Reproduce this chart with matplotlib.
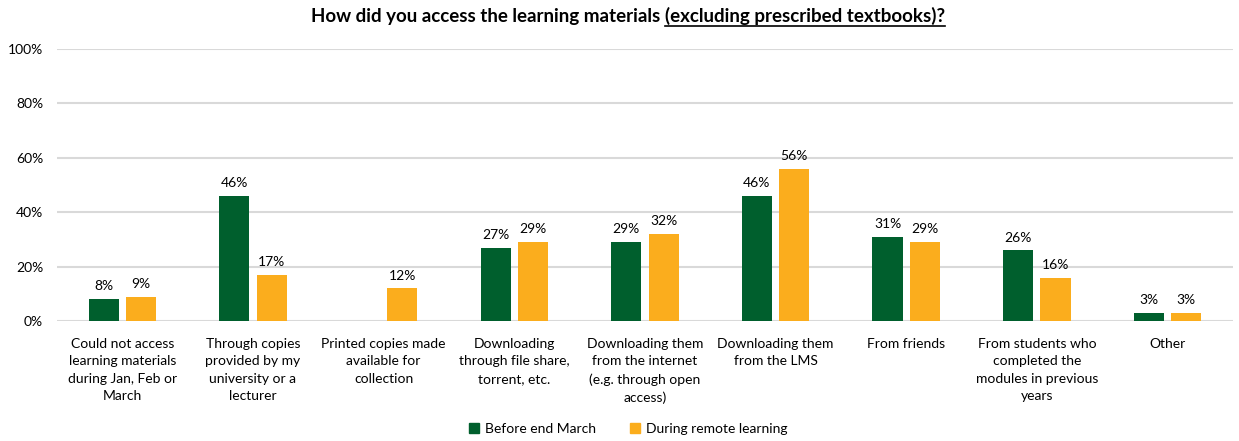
import numpy as np
import matplotlib
matplotlib.use("Agg")
import matplotlib.pyplot as plt
from matplotlib.patches import Patch

categories = [
    "Could not access\nlearning materials\nduring Jan, Feb or\nMarch",
    "Through copies\nprovided by my\nuniversity or a\nlecturer",
    "Printed copies made\navailable for\ncollection",
    "Downloading\nthrough file share,\ntorrent, etc.",
    "Downloading them\nfrom the internet\n(e.g. through open\naccess)",
    "Downloading them\nfrom the LMS",
    "From friends",
    "From students who\ncompleted the\nmodules in previous\nyears",
    "Other",
]
before_march = [8, 46, None, 27, 29, 46, 31, 26, 3]
remote = [9, 17, 12, 29, 32, 56, 29, 16, 3]
yticks = [0, 20, 40, 60, 80, 100]

GREEN = "#005F2D"
ORANGE = "#FBAD1D"
GRID = "#D9D9D9"

plt.rcParams["font.family"] = ["Lato", "DejaVu Sans"]

fig = plt.figure(figsize=(12.39, 4.41), dpi=100)
ax = fig.add_axes([0.046, 0.272, 0.949, 0.617])

x = np.arange(len(categories))
w = 0.23
off = 0.143

for i, (b, r) in enumerate(zip(before_march, remote)):
    if b is not None:
        ax.bar(x[i] - off, b, w, color=GREEN, zorder=3)
        ax.text(x[i] - off, b + 2.5, f"{b}%", ha="center", va="bottom", fontsize=10)
    ax.bar(x[i] + off, r, w, color=ORANGE, zorder=3)
    ax.text(x[i] + off, r + 2.5, f"{r}%", ha="center", va="bottom", fontsize=10)

ax.set_xlim(-0.5, len(categories) - 0.5)
ax.set_ylim(0, 100)
ax.set_yticks(yticks)
ax.set_yticklabels([f"{t}%" for t in yticks], fontsize=10)
ax.set_xticks(x)
ax.set_xticklabels(categories, fontsize=10, linespacing=1.55, va="top")
ax.tick_params(length=0, pad=12)
ax.tick_params(axis="y", pad=10)
ax.yaxis.grid(True, color=GRID, linewidth=1.5, zorder=0)
for s in ax.spines.values():
    s.set_visible(False)

# title with underlined second part
fig.canvas.draw()
renderer = fig.canvas.get_renderer()
part1 = "How did you access the learning materials "
part2 = "(excluding prescribed textbooks)?"
ty = 0.95
t1 = fig.text(0, ty, part1, fontsize=13.5, fontweight="bold", va="baseline")
t2 = fig.text(0, ty, part2, fontsize=13.5, fontweight="bold", va="baseline")
w1 = t1.get_window_extent(renderer).width
w2 = t2.get_window_extent(renderer).width
fw = fig.bbox.width
start = 311
t1.set_x(start / fw)
t2.set_x((start + w1) / fw)
uy = ty - 4 / fig.bbox.height
fig.add_artist(plt.Line2D([(start + w1) / fw, (start + w1 + w2) / fw], [uy, uy],
                          color="black", linewidth=1.2, transform=fig.transFigure))

handles = [Patch(color=GREEN, label="Before end March"),
           Patch(color=ORANGE, label="During remote learning")]
fig.legend(handles=handles, loc="center", bbox_to_anchor=(0.507, 0.027), ncol=2,
           frameon=False, fontsize=10, handlelength=0.7, handleheight=0.7,
           handletextpad=0.4, columnspacing=2.5)

fig.savefig("out.png", dpi=100)
